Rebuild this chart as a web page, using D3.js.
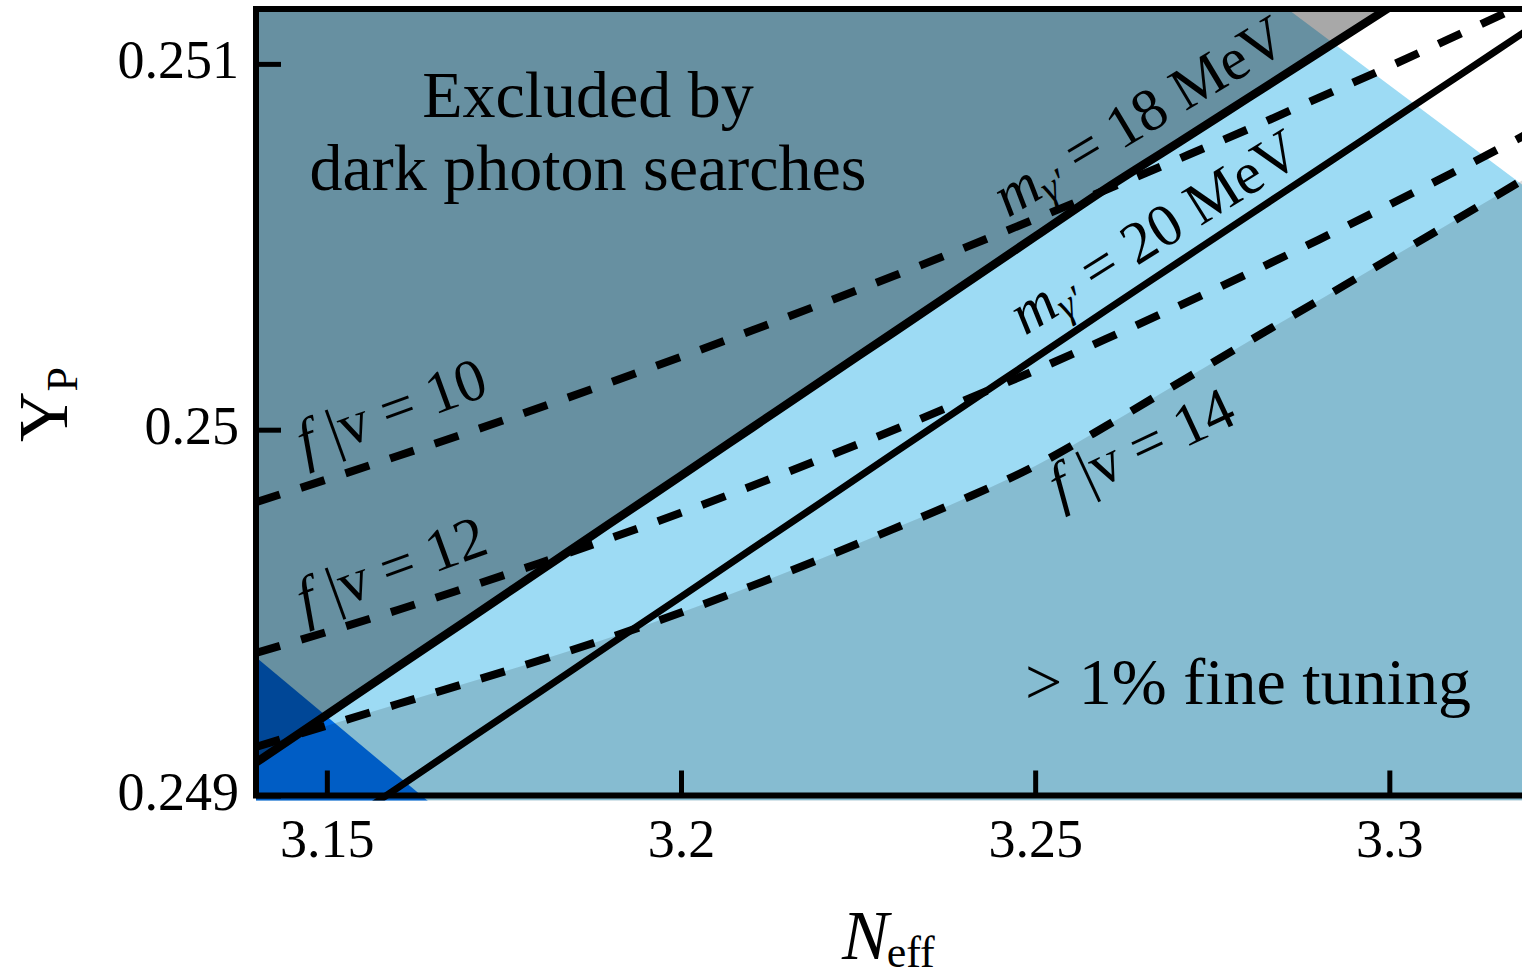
<!DOCTYPE html>
<html>
<head>
<meta charset="utf-8">
<script src="https://cdn.jsdelivr.net/npm/d3@7"></script>
<style>
  html, body { margin: 0; padding: 0; background: #ffffff; }
  svg { display: block; }
  text { font-family: "Liberation Serif", "Times New Roman", serif; fill: #000; }
</style>
</head>
<body>
<svg id="chart" width="1522" height="980"></svg>
<script>
// ---- data -------------------------------------------------------------
const nEff = [3.14, 3.15, 3.16, 3.17, 3.18, 3.19, 3.20, 3.21, 3.22, 3.23,
              3.24, 3.25, 3.26, 3.27, 3.28, 3.29, 3.30, 3.31, 3.32];

// constant dark-photon mass contours
const yp18MeV = [0.249090, 0.249221, 0.249352, 0.249482, 0.249613, 0.249744, 0.249874,
                 0.250005, 0.250136, 0.250266, 0.250397, 0.250528, 0.250659, 0.250782,
                 0.250906, 0.251030, 0.251154, 0.251278, 0.251402];
const yp20MeV = [0.248760, 0.248890, 0.249021, 0.249152, 0.249282, 0.249413, 0.249543,
                 0.249674, 0.249804, 0.249935, 0.250065, 0.250196, 0.250326, 0.250455,
                 0.250584, 0.250712, 0.250841, 0.250970, 0.251099];

// constant f/v contours
const ypFv10 = [0.249802, 0.249864, 0.249928, 0.249993, 0.250060, 0.250129, 0.250199,
                0.250271, 0.250345, 0.250420, 0.250497, 0.250576, 0.250656, 0.250738,
                0.250821, 0.250907, 0.250993, 0.251082, 0.251172];
const ypFv12 = [0.249390, 0.249447, 0.249507, 0.249570, 0.249635, 0.249703, 0.249773,
                0.249846, 0.249922, 0.249999, 0.250080, 0.250162, 0.250248, 0.250336,
                0.250426, 0.250519, 0.250615, 0.250713, 0.250814];
const ypFv14 = [0.249133, 0.249191, 0.249250, 0.249309, 0.249369, 0.249432, 0.249500,
                0.249573, 0.249649, 0.249729, 0.249811, 0.249901, 0.250010, 0.250125,
                0.250240, 0.250353, 0.250467, 0.250581, 0.250696];

// straight edges of the observational band (N_eff, Y_P)
const bandEdgeLower = [[3.14, 0.249378], [3.16335, 0.249]];
const bandEdgeUpper = [[3.28564, 0.25115], [3.32, 0.250652]];

const xTicks = [3.15, 3.2, 3.25, 3.3];
const xTickLabels = ["3.15", "3.2", "3.25", "3.3"];
const yTicks = [0.249, 0.25, 0.251];
const yTickLabels = ["0.249", "0.25", "0.251"];

// ---- layout -----------------------------------------------------------
const plot = { left: 256, top: 9, right: 1531, bottom: 795.5 };

const svg = d3.select("#chart");
const x = d3.scaleLinear().domain([3.14, 3.32]).range([plot.left, plot.right]);
const y = d3.scaleLinear().domain([0.249, 0.25115]).range([plot.bottom, plot.top]);

const colors = {
  band: "#9ddbf4",
  bbn: "#006de6",
  excluded: "#000000",
  tuning: "#000000"
};

svg.append("defs").append("clipPath").attr("id", "plotClip")
  .append("rect")
  .attr("x", plot.left).attr("y", plot.top)
  .attr("width", plot.right - plot.left)
  .attr("height", plot.bottom - plot.top + 5);

const layer = svg.append("g").attr("clip-path", "url(#plotClip)");

const pts = arr => arr.map((v, i) => [nEff[i], v]);

// base band colour
layer.append("rect")
  .attr("x", plot.left).attr("y", plot.top)
  .attr("width", plot.right - plot.left)
  .attr("height", plot.bottom - plot.top + 5)
  .attr("fill", colors.band);

// half plane on one side of a straight edge
function halfPlane(edge, side) {
  const p1 = [x(edge[0][0]), y(edge[0][1])];
  const p2 = [x(edge[1][0]), y(edge[1][1])];
  const len = Math.hypot(p2[0] - p1[0], p2[1] - p1[1]);
  const d = [(p2[0] - p1[0]) / len, (p2[1] - p1[1]) / len];
  const A = [p1[0] - d[0] * 4000, p1[1] - d[1] * 4000];
  const B = [p2[0] + d[0] * 4000, p2[1] + d[1] * 4000];
  const C = side === "lowerLeft" ? [A[0], B[1]] : [B[0], A[1]];
  return [A, B, C];
}

layer.append("polygon")
  .attr("points", halfPlane(bandEdgeLower, "lowerLeft").map(p => p.join(",")).join(" "))
  .attr("fill", colors.bbn);
layer.append("polygon")
  .attr("points", halfPlane(bandEdgeUpper, "upperRight").map(p => p.join(",")).join(" "))
  .attr("fill", "#ffffff");

// shaded exclusions
const areaAbove = d3.area().curve(d3.curveMonotoneX)
  .x(d => x(d[0])).y0(y(0.2515)).y1(d => y(d[1]));
const areaBelow = d3.area().curve(d3.curveMonotoneX)
  .x(d => x(d[0])).y0(d => y(d[1])).y1(y(0.2487));

layer.append("path").attr("d", areaAbove(pts(yp18MeV)))
  .attr("fill", colors.excluded).attr("fill-opacity", 0.34);
layer.append("path").attr("d", areaBelow(pts(ypFv14)))
  .attr("fill", colors.tuning).attr("fill-opacity", 0.14);

// contours
const line = d3.line().curve(d3.curveMonotoneX).x(d => x(d[0])).y(d => y(d[1]));

[ypFv10, ypFv12, ypFv14].forEach(series => {
  layer.append("path").attr("d", line(pts(series)))
    .attr("fill", "none").attr("stroke", "#000")
    .attr("stroke-width", 8).attr("stroke-dasharray", "25 22");
});
layer.append("path").attr("d", line(pts(yp18MeV)))
  .attr("fill", "none").attr("stroke", "#000").attr("stroke-width", 8.5);
layer.append("path").attr("d", line(pts(yp20MeV)))
  .attr("fill", "none").attr("stroke", "#000").attr("stroke-width", 7);

// ---- axes ---------------------------------------------------------------
const xAxis = d3.axisBottom(x).tickValues(xTicks)
  .tickFormat((d, i) => xTickLabels[i]).tickSizeInner(-25).tickSizeOuter(0);
const gx = svg.append("g").attr("transform", `translate(0,${plot.bottom})`).call(xAxis);
gx.select(".domain").remove();
gx.attr("font-family", null).attr("font-size", null);
gx.selectAll(".tick line").attr("stroke", "#000").attr("stroke-width", 5);
gx.selectAll(".tick text").attr("y", 61.5).attr("dy", null)
  .attr("font-size", 54).attr("fill", "#000");

const yAxis = d3.axisLeft(y).tickValues(yTicks)
  .tickFormat((d, i) => yTickLabels[i]).tickSizeInner(-25).tickSizeOuter(0).tickPadding(17);
const gy = svg.append("g").attr("transform", `translate(${plot.left},0)`).call(yAxis);
gy.select(".domain").remove();
gy.attr("font-family", null).attr("font-size", null);
gy.selectAll(".tick line").attr("stroke", "#000").attr("stroke-width", 5);
gy.selectAll(".tick text").attr("dy", 14).attr("x", -17)
  .attr("font-size", 54).attr("fill", "#000");

// frame
svg.append("rect")
  .attr("x", plot.left).attr("y", plot.top)
  .attr("width", plot.right - plot.left).attr("height", plot.bottom - plot.top)
  .attr("fill", "none").attr("stroke", "#000").attr("stroke-width", 6);

// axis titles
const xt = svg.append("text").attr("x", 842).attr("y", 959).attr("font-size", 70);
xt.append("tspan").attr("font-style", "italic").text("N");
xt.append("tspan").attr("font-size", 44).attr("dy", 8).attr("dx", -2).text("eff");

const yt = svg.append("text").attr("transform", "translate(67,442) rotate(-90)").attr("font-size", 70);
yt.append("tspan").text("Y");
yt.append("tspan").attr("font-size", 44).attr("dy", 10).text("P");

// ---- annotations --------------------------------------------------------
svg.append("text").attr("x", 588).attr("y", 117).attr("font-size", 66)
  .attr("text-anchor", "middle").text("Excluded by");
svg.append("text").attr("x", 588).attr("y", 190).attr("font-size", 66)
  .attr("text-anchor", "middle").text("dark photon searches");
svg.append("text").attr("x", 1248).attr("y", 704).attr("font-size", 66)
  .attr("text-anchor", "middle").text("> 1% fine tuning");

function fvLabel(px, py, angle, value) {
  const t = svg.append("text")
    .attr("transform", `translate(${px},${py}) rotate(${angle})`)
    .attr("font-size", 60);
  t.append("tspan").attr("font-style", "italic").text("f");
  t.append("tspan").text(" |v = " + value);
}
function massLabel(px, py, angle, value) {
  const t = svg.append("text")
    .attr("transform", `translate(${px},${py}) rotate(${angle})`)
    .attr("font-size", 60);
  t.append("tspan").attr("font-style", "italic").text("m");
  t.append("tspan").attr("font-style", "italic").attr("font-size", 40).attr("dy", 9).text("\u03B3\u2032");
  t.append("tspan").attr("dy", -9).text(" = " + value + " MeV");
}

fvLabel(305, 462, -20, 10);
fvLabel(305, 620, -20, 12);
fvLabel(1060, 506, -25, 14);
massLabel(1008, 218, -31, 18);
massLabel(1025, 336, -32, 20);
</script>
</body>
</html>
